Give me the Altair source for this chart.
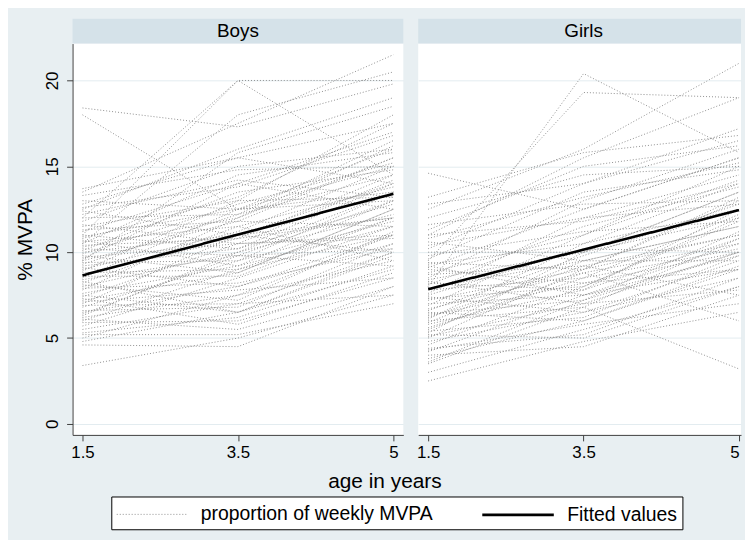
import altair as alt
import pandas as pd

FONT = "Liberation Sans"
SERIES = ["proportion of weekly MVPA", "Fitted values"]
age_values = [1, 2, 3]
age_labels = ["1.5", "3.5", "5"]
y_ticks = [0, 5, 10, 15, 20]

# Boys: % MVPA at age 1.5, 3.5, 5 (one entry per child)
boys_a15 = [18.4, 18.0, 12.0, 11.0, 13.5, 10.5, 12.5, 9.5, 13.7, 3.4, 4.6, 4.8, 5.2,
            5.5, 5.7, 5.9, 6.0, 6.2, 6.3, 6.5, 6.6, 6.8, 7.0, 7.1, 7.2, 7.4, 7.5, 7.6,
            7.8, 7.9, 8.0, 8.1, 8.2, 8.4, 8.5, 8.6, 8.7, 8.8, 8.9, 9.0, 9.1, 9.2, 9.3,
            9.4, 9.5, 9.6, 9.7, 9.8, 9.9, 10.0, 10.1, 10.2, 10.3, 10.4, 10.5, 10.6, 10.7,
            10.8, 10.9, 11.0, 11.2, 11.3, 11.5, 11.6, 11.8, 12.0, 12.2, 12.4, 12.6, 12.8,
            13.0, 13.3, 6.1, 5.3, 6.9, 7.3, 8.3, 5.0, 6.4]
boys_a35 = [17.3, 12.5, 20.0, 20.0, 17.5, 18.0, 16.0, 15.8, 15.5, 5.0, 4.5, 6.5, 5.2,
            7.0, 8.5, 6.0, 9.0, 7.5, 10.0, 8.0, 6.8, 9.5, 11.0, 7.8, 8.8, 10.5, 6.5, 9.2,
            12.0, 8.2, 10.0, 7.2, 11.5, 9.8, 12.5, 8.6, 10.8, 9.0, 13.0, 11.2, 8.0, 10.2, 12.2,
            9.5, 11.8, 14.0, 10.5, 8.8, 12.8, 11.0, 13.5, 9.8, 12.0, 10.8, 14.5, 11.5, 9.2,
            13.2, 12.5, 10.2, 14.0, 11.8, 13.0, 10.5, 15.0, 12.2, 14.2, 11.0, 13.8, 15.5,
            12.5, 14.8, 5.5, 6.2, 7.0, 5.8, 6.5, 7.5, 9.8]
boys_a5 = [19.8, 15.0, 20.0, 14.5, 21.5, 20.5, 19.0, 18.5, 17.5, 7.5, 8.0, 9.0, 7.0,
           10.0, 11.5, 8.5, 12.0, 9.5, 13.5, 11.0, 10.5, 11.8, 14.0, 8.5, 12.5, 10.8, 9.8, 13.0,
           15.5, 10.2, 12.2, 11.2, 13.8, 9.2, 16.0, 12.0, 14.5, 11.0, 13.2, 15.0, 10.5, 12.8, 16.5,
           13.5, 11.5, 17.0, 14.2, 12.5, 15.2, 10.0, 14.8, 13.0, 16.2, 12.0, 15.8, 9.5, 11.5,
           17.5, 13.0, 14.0, 12.5, 15.5, 18.0, 11.0, 16.0, 14.5, 13.2, 12.0, 16.8, 14.0,
           13.5, 15.0, 8.0, 9.2, 7.5, 8.8, 10.0, 11.0, 10.2]

# Girls: % MVPA at age 1.5, 3.5, 5
girls_a15 = [14.6, 8.0, 9.5, 12.5, 13.2, 11.0, 12.8, 2.5, 3.0, 3.5, 4.0, 5.5, 6.2,
             3.8, 4.2, 4.4, 4.6, 4.8, 5.0, 5.1, 5.3, 5.4, 5.6, 5.8, 5.9, 6.0, 6.1, 6.3,
             6.4, 6.6, 6.7, 6.9, 7.0, 7.2, 7.3, 7.5, 7.6, 7.8, 7.9, 8.1, 8.2, 8.4, 8.5,
             8.7, 8.8, 9.0, 9.1, 9.3, 9.4, 9.6, 9.8, 10.0, 10.2, 10.4, 10.6, 10.8, 11.0,
             11.3, 11.6, 12.0, 4.3, 5.2, 6.5, 7.4, 8.3, 9.2, 3.6]
girls_a35 = [12.5, 20.4, 19.3, 16.0, 15.8, 15.5, 14.0, 4.8, 5.5, 6.8, 4.5, 8.8, 9.2,
             6.0, 7.5, 5.2, 8.0, 6.5, 9.0, 7.0, 10.0, 6.2, 8.5, 7.8, 9.5, 6.8, 10.5, 8.2,
             7.2, 9.8, 8.8, 11.0, 7.5, 9.0, 8.0, 10.2, 12.0, 8.5, 9.5, 11.5, 7.8, 10.0, 13.0,
             9.2, 11.0, 8.2, 12.5, 10.5, 9.0, 13.5, 11.2, 10.0, 14.0, 12.0, 9.5, 13.2, 11.8,
             15.0, 12.8, 14.5, 5.8, 5.0, 6.0, 6.5, 7.0, 7.5, 7.2]
girls_a5 = [15.5, 15.8, 19.0, 21.0, 16.8, 19.0, 17.2, 6.5, 8.0, 3.2, 7.5, 6.0, 7.5,
            9.0, 10.5, 8.5, 12.0, 9.5, 11.0, 10.0, 13.5, 9.8, 10.2, 12.5, 11.5, 10.8, 14.0, 9.0,
            11.2, 12.8, 10.5, 15.0, 9.8, 13.0, 11.8, 10.0, 14.5, 12.2, 9.5, 13.8, 10.8, 12.0, 16.0,
            11.0, 14.2, 10.0, 15.5, 12.5, 13.2, 14.8, 11.8, 13.5, 16.5, 12.8, 11.5, 15.2, 14.0,
            16.2, 13.0, 15.0, 7.0, 8.0, 9.2, 8.5, 7.8, 9.0, 10.0]

# Fitted values at age 1.5 and 5
boys_fit = [8.65, 13.4]
girls_fit = [7.85, 12.45]

Y_DOMAIN = [-0.64, 22.15]
H = 394
STRIP = 25


def long_df(tag, a, b, c):
    rows = []
    for i, vals in enumerate(zip(a, b, c)):
        for w, v in zip(age_values, vals):
            rows.append({"id": f"{tag}{i}", "wave": w, "value": v, "series": SERIES[0]})
    return pd.DataFrame(rows)


def fit_df(fit):
    return pd.DataFrame({"wave": [age_values[0], age_values[-1]], "value": fit,
                         "series": [SERIES[1], SERIES[1]]})


label_expr = ("datum.value == 1 ? '%s' : datum.value == 2 ? '%s' : '%s'"
              % tuple(age_labels))

legend = alt.Legend(
    title=None, orient="none", legendX=39, legendY=456, direction="horizontal",
    symbolType="M-1,0H5", symbolSize=576, labelFontSize=19.5, labelFont=FONT,
    labelColor="black", fillColor="white", strokeColor="black", padding=5,
    columnPadding=44, labelOffset=60, labelLimit=400,
)
color = alt.Color("series:N", scale=alt.Scale(domain=SERIES, range=["#909090", "#000000"]),
                  legend=legend)
dash = alt.StrokeDash("series:N", scale=alt.Scale(domain=SERIES, range=[[1, 2], [1, 0]]),
                      legend=legend)
swidth = alt.StrokeWidth("series:N", scale=alt.Scale(domain=SERIES, range=[1, 2.6]),
                         legend=legend)


def panel(name, a, b, c, fit, width, pad_left, pad_right, strip_center, first):
    step = (width - pad_left - pad_right) / 2.0
    domain = [1 - pad_left / step, 3 + pad_right / step]
    x_axis = alt.Axis(
        values=age_values, labelExpr=label_expr, grid=False, labelFontSize=17,
        labelFont=FONT, labelColor="black", tickSize=6, tickColor="#404040",
        domainColor="#404040", labelPadding=4, labelFlush=4,
        title="age in years" if first else None,
        **({"titleX": 314, "titleY": 47, "titleBaseline": "middle", "titleFontSize": 21,
            "titleFont": FONT, "titleFontWeight": "normal", "titleColor": "black"} if first else {}),
    )
    if first:
        y_axis = alt.Axis(
            values=y_ticks, labelAngle=270, labelAlign="center", labelBaseline="bottom",
            labelFontSize=17, labelFont=FONT, labelColor="black", labelPadding=5,
            tickSize=6, tickColor="#404040", domainColor="#404040", grid=True,
            gridColor="#e3ecf0", title="% MVPA", titleFontSize=21, titleFont=FONT,
            titleFontWeight="normal", titleColor="black", titlePadding=8,
        )
    else:
        y_axis = alt.Axis(values=y_ticks, labels=False, ticks=False, domain=False,
                          grid=True, gridColor="#e3ecf0", title=None)
    x = alt.X("wave:Q", scale=alt.Scale(domain=domain, nice=False, zero=False), axis=x_axis)
    y = alt.Y("value:Q", scale=alt.Scale(domain=Y_DOMAIN, nice=False, zero=False), axis=y_axis)

    lines = alt.Chart(long_df(name, a, b, c)).mark_line().encode(
        x=x, y=y, detail="id:N", color=color, strokeDash=dash, strokeWidth=swidth)
    fitted = alt.Chart(fit_df(fit)).mark_line().encode(
        x=x, y=y, color=color, strokeDash=dash, strokeWidth=swidth)
    head = pd.DataFrame({"label": [name]})
    strip = alt.Chart(head).mark_rect(color="#d5e2e9").encode(
        x=alt.value(0), x2=alt.value(width), y=alt.value(-STRIP), y2=alt.value(0))
    strip_text = alt.Chart(head).mark_text(font=FONT, fontSize=19, color="black",
                                           baseline="middle", align="center").encode(
        text="label:N", x=alt.value(strip_center), y=alt.value(-STRIP / 2))
    return alt.layer(strip, strip_text, lines, fitted).properties(width=width, height=H)


boys = panel("Boys", boys_a15, boys_a35, boys_a5, boys_fit, 333, 10, 10, 166.5, True)
girls = panel("Girls", girls_a15, girls_a35, girls_a5, girls_fit, 325, 10, 2, 166.5, False)

chart = alt.hconcat(boys, girls, spacing=15, bounds="flush").resolve_scale(
    x="independent", color="shared", strokeDash="shared", strokeWidth="shared"
).properties(
    background="#e8eff2",
    padding={"left": 6, "top": 9, "right": 0, "bottom": 8},
).configure_view(stroke=None, fill="white")

chart.save("out.html", embed_options={"renderer": "svg", "actions": False})
